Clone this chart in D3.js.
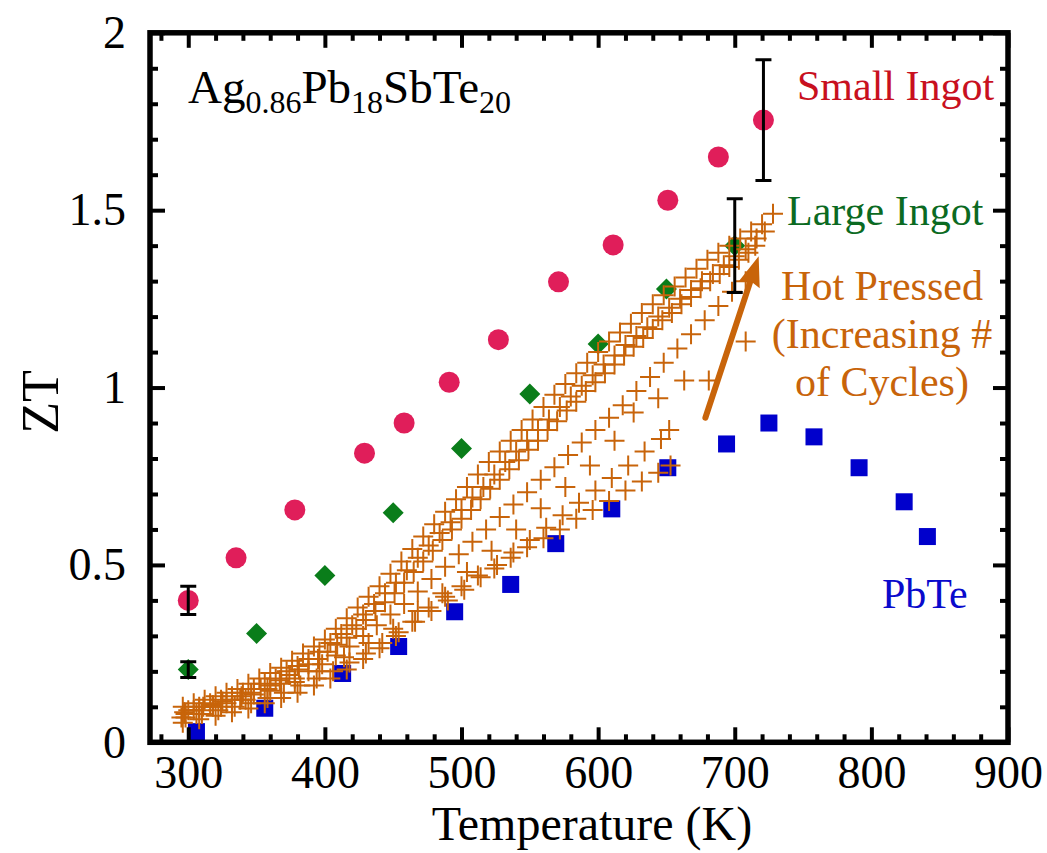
<!DOCTYPE html>
<html>
<head>
<meta charset="utf-8">
<script src="https://cdn.jsdelivr.net/npm/d3@7"></script>
<style>
  html, body { margin: 0; padding: 0; background: #fff; }
  svg { display: block; font-family: "Liberation Serif", "Times New Roman", serif; }
</style>
</head>
<body>
<svg id="chart" width="1047" height="853"></svg>
<script>
// ZT vs temperature for Ag0.86Pb18SbTe20 samples and PbTe

const xTickValues = [300, 400, 500, 600, 700, 800, 900];
const xTickLabels = ["300", "400", "500", "600", "700", "800", "900"];
const yTickValues = [0, 0.5, 1, 1.5, 2];
const yTickLabels = ["0", "0.5", "1", "1.5", "2"];

// Small ingot (circles): [T, ZT]
const smallIngot = [
  [300, 0.40], [335, 0.52], [378, 0.655], [429, 0.815], [458, 0.90],
  [491, 1.015], [527, 1.135], [571, 1.298], [611, 1.402], [651, 1.528],
  [688, 1.65], [721, 1.754]
];
// Large ingot (diamonds)
const largeIngot = [
  [300, 0.205], [350, 0.307], [400, 0.47], [450, 0.647], [500, 0.828],
  [550, 0.982], [600, 1.123], [650, 1.278], [700, 1.40]
];
// PbTe (squares)
const pbte = [
  [306, 0.03], [356, 0.096], [413, 0.194], [454, 0.27], [495, 0.368],
  [536, 0.445], [569, 0.56], [610, 0.658], [651, 0.774], [694, 0.841],
  [725, 0.90], [758, 0.861], [791, 0.774], [824, 0.678], [841, 0.58]
];
// Error bars: [T, ZT, half-width]
const errorBars = [
  [300, 0.40, 0.04], [721, 1.754, 0.17],
  [300, 0.205, 0.022], [700, 1.40, 0.132]
];

// Hot pressed samples, one array per pressing cycle count
const hotPressed1 = [
  [296,.10],[304,.11],[312,.12],[320,.13],[328,.14],[336,.15],[344,.165],[352,.18],
  [360,.195],[368,.21],[376,.23],[384,.25],[392,.27],[400,.29],[408,.32],[416,.35],
  [424,.38],[432,.41],[440,.44],[448,.475],[456,.51],[464,.545],[472,.58],[480,.615],
  [488,.65],[496,.685],[504,.72],[512,.755],[520,.79],[528,.82],[536,.85],[544,.88],
  [552,.91],[560,.945],[568,.98],[576,1.01],[584,1.04],[592,1.07],[600,1.10],[608,1.13],
  [616,1.155],[624,1.18],[632,1.21],[640,1.235],[648,1.26],[656,1.285],[664,1.31],
  [672,1.335],[680,1.36],[688,1.38],[696,1.40],[704,1.42],[712,1.44],[720,1.46],[728,1.49]
];
const hotPressed2 = [
  [300,.09],[308,.10],[316,.11],[324,.12],[332,.13],[340,.14],[348,.15],[356,.165],
  [364,.18],[372,.20],[380,.215],[388,.235],[396,.255],[404,.28],[412,.305],[420,.33],
  [428,.36],[436,.39],[444,.42],[452,.45],[460,.485],[468,.52],[476,.555],[484,.59],
  [492,.62],[500,.655],[508,.69],[516,.72],[524,.755],[532,.79],[540,.82],[548,.85],
  [556,.88],[564,.91],[572,.945],[580,.975],[588,1.005],[596,1.035],[604,1.065],[612,1.09],
  [620,1.12],[628,1.145],[636,1.17],[644,1.20],[652,1.225],[660,1.25],[668,1.275],
  [676,1.30],[684,1.32],[692,1.345],[700,1.37],[708,1.39],[716,1.42],[722,1.44]
];
const hotPressed3 = [
  [297,.085],[304,.09],[311,.10],[318,.105],[325,.115],[332,.12],[339,.13],[346,.14],
  [353,.15],[360,.16],[367,.175],[374,.19],[381,.205],[388,.22],[395,.235],[402,.255],
  [409,.275],[416,.295],[423,.32],[430,.345],[437,.37],[444,.395],[451,.42],[458,.45],
  [465,.48],[472,.51],[479,.54],[486,.57],[493,.60],[500,.63],[507,.655],[514,.685],
  [521,.715],[528,.74],[535,.77],[542,.795],[549,.825],[556,.85],[563,.88],[570,.905],
  [577,.935],[584,.96],[591,.99],[598,1.015],[605,1.04],[612,1.065],[619,1.09],[626,1.115],
  [633,1.14],[640,1.165],[647,1.19],[654,1.21],[661,1.235],[668,1.255],[675,1.28],
  [682,1.30],[689,1.32],[696,1.34],[703,1.36],[710,1.38],[715,1.40]
];
const hotPressed4 = [
  [298,.08],[308,.09],[318,.10],[328,.11],[338,.12],[348,.135],[358,.15],[368,.165],
  [378,.18],[388,.20],[398,.22],[408,.245],[418,.27],[428,.30],[438,.33],[448,.36],
  [458,.39],[468,.425],[478,.46],[488,.495],[498,.53],[508,.565],[518,.60],[528,.635],
  [538,.67],[548,.705],[558,.74],[568,.775],[578,.81],[588,.845],[598,.88],[608,.915],
  [618,.95],[628,.99],[638,1.03],[648,1.07],[658,1.11],[668,1.15],[678,1.19],[688,1.23],
  [698,1.27],[708,1.30]
];
const hotPressed5 = [
  [295,.07],[306,.08],[324,.10],[342,.12],[360,.145],[378,.17],[396,.20],[414,.24],
  [432,.28],[450,.32],[468,.37],[486,.42],[504,.48],[522,.54],[540,.60],[558,.66],
  [576,.72],[594,.78],[612,.85],[626,.93],[644,.97],[663,1.02],[681,1.02],[708,1.13]
];
const hotPressed6 = [
  [298,.07],[310,.08],[322,.09],[334,.10],[346,.11],[358,.125],[370,.14],[382,.16],
  [394,.18],[406,.20],[418,.225],[430,.25],[442,.28],[454,.31],[466,.34],[478,.37],
  [490,.40],[502,.43],[514,.465],[526,.50],[538,.535],[550,.57],[562,.605],[574,.64],
  [586,.675],[598,.71],[610,.745],[622,.78],[634,.82],[646,.855],[652,.88]
];
const hotPressed7 = [
  [296,.055],[308,.065],[320,.075],[332,.085],[344,.095],[356,.11],[368,.125],[380,.14],
  [392,.16],[404,.18],[416,.205],[428,.235],[440,.265],[452,.30],[464,.34],[476,.38],
  [488,.41],[500,.44],[512,.47],[524,.49],[536,.52],[548,.55],[560,.575],[572,.60],
  [584,.63],[596,.655],[608,.68],[620,.71],[632,.735],[644,.76],[653,.78]
];
const hotPressedSeries = [hotPressed1, hotPressed2, hotPressed3, hotPressed4,
  hotPressed5, hotPressed6, hotPressed7];

// Arrow indicating increasing number of cycles: [T, ZT] start and tip
const cycleArrow = [[678.5, 0.915], [717.5, 1.37]];

const colors = {
  small: "#e01e5a", smallText: "#c8101e",
  large: "#0a7d1a", largeText: "#0b6a22",
  pbte: "#0000cc", pbteText: "#0a0acc",
  hot: "#c8640a", hotText: "#c8640a"
};

const svg = d3.select("#chart");
const x = d3.scaleLinear().domain([272, 900]).range([150, 1008]);
const y = d3.scaleLinear().domain([0, 2]).range([742.3, 32.8]);

const plot = svg.append("g");

// PbTe squares
const sq = 17;
plot.append("g").selectAll("rect").data(pbte).join("rect")
  .attr("x", d => x(d[0]) - sq / 2).attr("y", d => y(d[1]) - sq / 2)
  .attr("width", sq).attr("height", sq).attr("fill", colors.pbte);

// Large ingot diamonds
const dr = 10.5;
plot.append("g").selectAll("path").data(largeIngot).join("path")
  .attr("d", d => {
    const cx = x(d[0]), cy = y(d[1]);
    return `M${cx},${cy - dr}L${cx + dr},${cy}L${cx},${cy + dr}L${cx - dr},${cy}Z`;
  })
  .attr("fill", colors.large);

// Small ingot circles
plot.append("g").selectAll("circle").data(smallIngot).join("circle")
  .attr("cx", d => x(d[0])).attr("cy", d => y(d[1])).attr("r", 10.5)
  .attr("fill", colors.small);

// Hot pressed plus markers
const ph = 10;
const hp = plot.append("g").attr("stroke", colors.hot).attr("stroke-width", 2).attr("fill", "none");
hotPressedSeries.forEach(series => {
  hp.append("g").selectAll("path").data(series).join("path")
    .attr("d", d => {
      const cx = x(d[0]), cy = y(d[1]);
      return `M${cx - ph},${cy}h${2 * ph}M${cx},${cy - ph}v${2 * ph}`;
    });
});

// Error bars
const cap = 8;
const eb = plot.append("g").attr("stroke", "#000").attr("stroke-width", 3).attr("fill", "none");
eb.selectAll("path").data(errorBars).join("path")
  .attr("d", d => {
    const cx = x(d[0]), y0 = y(d[1] - d[2]), y1 = y(d[1] + d[2]);
    return `M${cx},${y0}V${y1}M${cx - cap},${y0}h${2 * cap}M${cx - cap},${y1}h${2 * cap}`;
  });

// Arrow
const ax0 = x(cycleArrow[0][0]), ay0 = y(cycleArrow[0][1]);
const ax1 = x(cycleArrow[1][0]), ay1 = y(cycleArrow[1][1]);
const ang = Math.atan2(ay1 - ay0, ax1 - ax0);
const headLen = 30, headHalf = 11;
const bx = ax1 - headLen * Math.cos(ang), by = ay1 - headLen * Math.sin(ang);
plot.append("line")
  .attr("x1", ax0).attr("y1", ay0).attr("x2", bx + 3 * Math.cos(ang)).attr("y2", by + 3 * Math.sin(ang))
  .attr("stroke", colors.hot).attr("stroke-width", 6).attr("stroke-linecap", "round");
plot.append("path")
  .attr("d", `M${ax1},${ay1}L${bx - headHalf * Math.sin(ang)},${by + headHalf * Math.cos(ang)}L${bx + 4 * Math.cos(ang)},${by + 4 * Math.sin(ang)}L${bx + headHalf * Math.sin(ang)},${by - headHalf * Math.cos(ang)}Z`)
  .attr("fill", colors.hot);

// Axes
const xMinor = d3.range(280, 901, 20).filter(v => v % 100 !== 0);
const yMinor = d3.range(1, 20).filter(v => v % 5 !== 0).map(v => v / 10);

function styleAxis(g, width) {
  g.select(".domain").remove();
  g.selectAll(".tick line").attr("stroke", "#000").attr("stroke-width", width);
  g.attr("font-family", null);
}

const fontTick = 46;
const axisBottomG = svg.append("g").attr("transform", `translate(0,${y(0)})`)
  .call(d3.axisBottom(x).tickValues(xTickValues).tickSize(-15).tickPadding(13)
    .tickFormat((d, i) => xTickLabels[i]));
styleAxis(axisBottomG, 4);
axisBottomG.selectAll("text").attr("font-size", fontTick).attr("fill", "#000");
svg.append("g").attr("transform", `translate(0,${y(0)})`)
  .call(d3.axisBottom(x).tickValues(xMinor).tickSize(-8).tickFormat(""))
  .call(g => styleAxis(g, 4));

const axisTopG = svg.append("g").attr("transform", `translate(0,${y(2)})`)
  .call(d3.axisTop(x).tickValues(xTickValues).tickSize(-15).tickFormat(""));
styleAxis(axisTopG, 4);
svg.append("g").attr("transform", `translate(0,${y(2)})`)
  .call(d3.axisTop(x).tickValues(xMinor).tickSize(-8).tickFormat(""))
  .call(g => styleAxis(g, 4));

const axisLeftG = svg.append("g").attr("transform", `translate(${x(272)},0)`)
  .call(d3.axisLeft(y).tickValues(yTickValues).tickSize(-15).tickPadding(24)
    .tickFormat((d, i) => yTickLabels[i]));
styleAxis(axisLeftG, 4);
axisLeftG.selectAll("text").attr("font-size", fontTick).attr("fill", "#000");
svg.append("g").attr("transform", `translate(${x(272)},0)`)
  .call(d3.axisLeft(y).tickValues(yMinor).tickSize(-8).tickFormat(""))
  .call(g => styleAxis(g, 4));

const axisRightG = svg.append("g").attr("transform", `translate(${x(900)},0)`)
  .call(d3.axisRight(y).tickValues(yTickValues).tickSize(-15).tickFormat(""));
styleAxis(axisRightG, 4);
svg.append("g").attr("transform", `translate(${x(900)},0)`)
  .call(d3.axisRight(y).tickValues(yMinor).tickSize(-8).tickFormat(""))
  .call(g => styleAxis(g, 4));

// Frame
svg.append("rect")
  .attr("x", x(272)).attr("y", y(2))
  .attr("width", x(900) - x(272)).attr("height", y(0) - y(2))
  .attr("fill", "none").attr("stroke", "#000").attr("stroke-width", 5.5);

// Axis titles
svg.append("text").attr("x", 592).attr("y", 840).attr("text-anchor", "middle")
  .attr("font-size", 48).attr("fill", "#000").text("Temperature (K)");
svg.append("text").attr("transform", "translate(58,402) rotate(-90)")
  .attr("text-anchor", "middle").attr("font-size", 52).attr("fill", "#000").text("ZT");

// Composition label with subscripts
const comp = svg.append("text").attr("x", 188).attr("y", 103).attr("font-size", 47).attr("fill", "#000");
const compParts = [["Ag", false], ["0.86", true], ["Pb", false], ["18", true], ["SbTe", false], ["20", true]];
let inSub = false;
compParts.forEach(([t, isSub]) => {
  const ts = comp.append("tspan").text(t);
  if (isSub) { ts.attr("font-size", 32); }
  if (isSub !== inSub) { ts.attr("dy", isSub ? 10 : -10); inSub = isSub; }
});

// Series labels
svg.append("text").attr("x", 797).attr("y", 100).attr("font-size", 42)
  .attr("fill", colors.smallText).text("Small Ingot");
svg.append("text").attr("x", 787).attr("y", 225).attr("font-size", 42)
  .attr("fill", colors.largeText).text("Large Ingot");
const hotLines = ["Hot Pressed", "(Increasing #", "of Cycles)"];
svg.append("g").selectAll("text").data(hotLines).join("text")
  .attr("x", 882).attr("y", (d, i) => 300 + i * 48).attr("text-anchor", "middle")
  .attr("font-size", 42).attr("fill", colors.hotText).text(d => d);
svg.append("text").attr("x", 882).attr("y", 608).attr("font-size", 42)
  .attr("fill", colors.pbteText).text("PbTe");
</script>
</body>
</html>
